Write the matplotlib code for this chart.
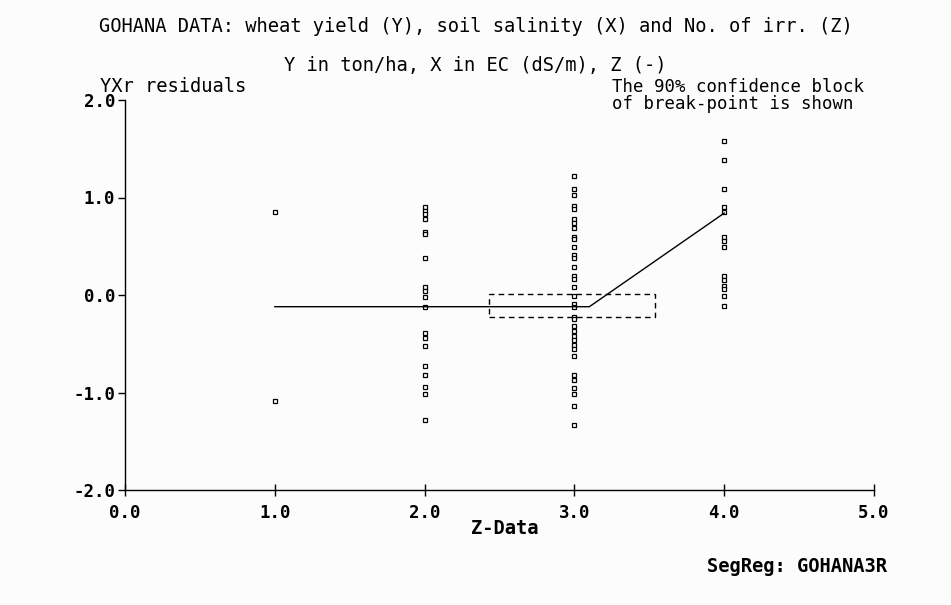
import matplotlib
matplotlib.use("Agg")
import matplotlib.pyplot as plt
from matplotlib.patches import Rectangle

# residuals per number of irrigations (Z)
z1 = [0.85, -1.09]
z2 = [0.90, 0.86, 0.83, 0.78, 0.65, 0.63, 0.38, 0.08, 0.04, -0.02, -0.12,
      -0.39, -0.44, -0.52, -0.73, -0.82, -0.94, -1.02, -1.28]
z3 = [1.22, 1.09, 1.03, 0.91, 0.88, 0.78, 0.74, 0.69, 0.60, 0.57, 0.49,
      0.41, 0.38, 0.29, 0.19, 0.16, 0.08, -0.01, -0.09, -0.12, -0.23, -0.25,
      -0.32, -0.37, -0.42, -0.46, -0.51, -0.55, -0.63, -0.82, -0.87, -0.95,
      -1.02, -1.14, -1.33]
z4 = [1.58, 1.38, 1.09, 0.90, 0.85, 0.59, 0.55, 0.49, 0.19, 0.15, 0.09,
      0.06, -0.01, -0.11]

# segmented regression line
line_x = [1.0, 3.1, 4.0]
line_y = [-0.12, -0.12, 0.84]

# 90% confidence block of the break point
block_x = [2.43, 3.54]
block_y = [-0.23, 0.01]

font = "DejaVu Sans Mono"
bg = "#fcfcfc"
fs = 13.5

fig = plt.figure(figsize=(9.51, 6.05), dpi=100, facecolor=bg)
ax = fig.add_axes([125/951, 1-490/605, 749/951, 390/605])
ax.set_facecolor(bg)

for z, vals in zip([1, 2, 3, 4], [z1, z2, z3, z4]):
    ax.plot([z]*len(vals), vals, ls="none", marker="s", ms=3.5,
            mfc="white", mec="black", mew=0.9)

ax.plot(line_x, line_y, color="black", lw=1)
ax.add_patch(Rectangle((block_x[0], block_y[0]), block_x[1]-block_x[0],
                       block_y[1]-block_y[0], fill=False, ls=(0, (4, 3)),
                       lw=1, ec="black"))

ax.set_xlim(0, 5)
ax.set_ylim(-2, 2)
ax.set_xticks([0, 1, 2, 3, 4, 5])
ax.set_yticks([-2, -1, 0, 1, 2])
ax.set_xticklabels(["0.0", "1.0", "2.0", "3.0", "4.0", "5.0"],
                   family=font, weight="bold", fontsize=12.5)
ax.set_yticklabels(["-2.0", "-1.0", "0.0", "1.0", "2.0"],
                   family=font, weight="bold", fontsize=12.5)
ax.tick_params(axis="x", direction="inout", length=8, width=1, pad=6)
ax.tick_params(axis="y", direction="out", length=5, width=1, pad=2)
for s in ["top", "right"]:
    ax.spines[s].set_visible(False)
for s in ["left", "bottom"]:
    ax.spines[s].set_linewidth(1)

fig.text(0.5, 1-27/605, "GOHANA DATA: wheat yield (Y), soil salinity (X) and No. of irr. (Z)",
         ha="center", va="center", family=font, fontsize=fs)
fig.text(0.5, 1-66/605, "Y in ton/ha, X in EC (dS/m), Z (-)",
         ha="center", va="center", family=font, fontsize=fs)
fig.text(100/951, 1-87/605, "YXr residuals", ha="left", va="center",
         family=font, fontsize=fs)
fig.text(612/951, 1-87/605, "The 90% confidence block", ha="left",
         va="center", family=font, fontsize=12.5)
fig.text(612/951, 1-104/605, "of break-point is shown", ha="left",
         va="center", family=font, fontsize=12.5)
fig.text(505/951, 1-528/605, "Z-Data", ha="center", va="center",
         family=font, fontsize=fs, weight="bold")
fig.text(887/951, 1-567/605, "SegReg: GOHANA3R", ha="right", va="center",
         family=font, fontsize=fs, weight="bold")

fig.savefig("out.png", dpi=100, facecolor=bg)
